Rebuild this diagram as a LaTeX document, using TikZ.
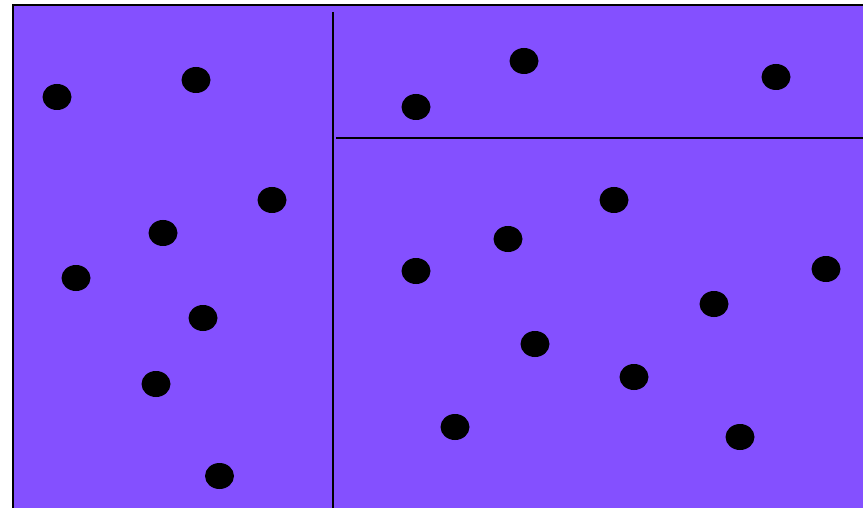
\documentclass[tikz,border=0pt]{standalone}
\usetikzlibrary{shapes.geometric}
\begin{document}
\begin{tikzpicture}[x=1pt,y=-1pt,
  dot/.style={fill=black,draw=none,ellipse,minimum width=29pt,minimum height=26pt,inner sep=0pt},
  border/.style={draw=black,line width=2pt},
  divider/.style={draw=black,line width=2pt}]
\definecolor{bgpurple}{RGB}{132,80,255}
\useasboundingbox (0,0) rectangle (863,508);
\fill[bgpurple] (13,5) rectangle (863,508);
\draw[border] (13,508) -- (13,5) -- (863,5);
\coordinate (vtop) at (332.5,12);
\coordinate (vbot) at (332.5,508);
\coordinate (hl) at (336,138.5);
\coordinate (hr) at (863,138.5);
\draw[divider] (vtop) -- (vbot);
\draw[divider] (hl) -- (hr);
\foreach \n/\x/\y in {a/57/97, b/196/80, c/272/200, d/163/233, e/76/278, f/203/318, g/156/384, h/219.5/476,
  i/416/107, j/524/61, k/776/77,
  l/614/200, m/508/239, n/416/271, o/826/269, p/714/304, q/535/344, r/634/377, s/455/427, t/740/437}
  \node[dot] (\n) at (\x,\y) {};
\end{tikzpicture}
\end{document}
